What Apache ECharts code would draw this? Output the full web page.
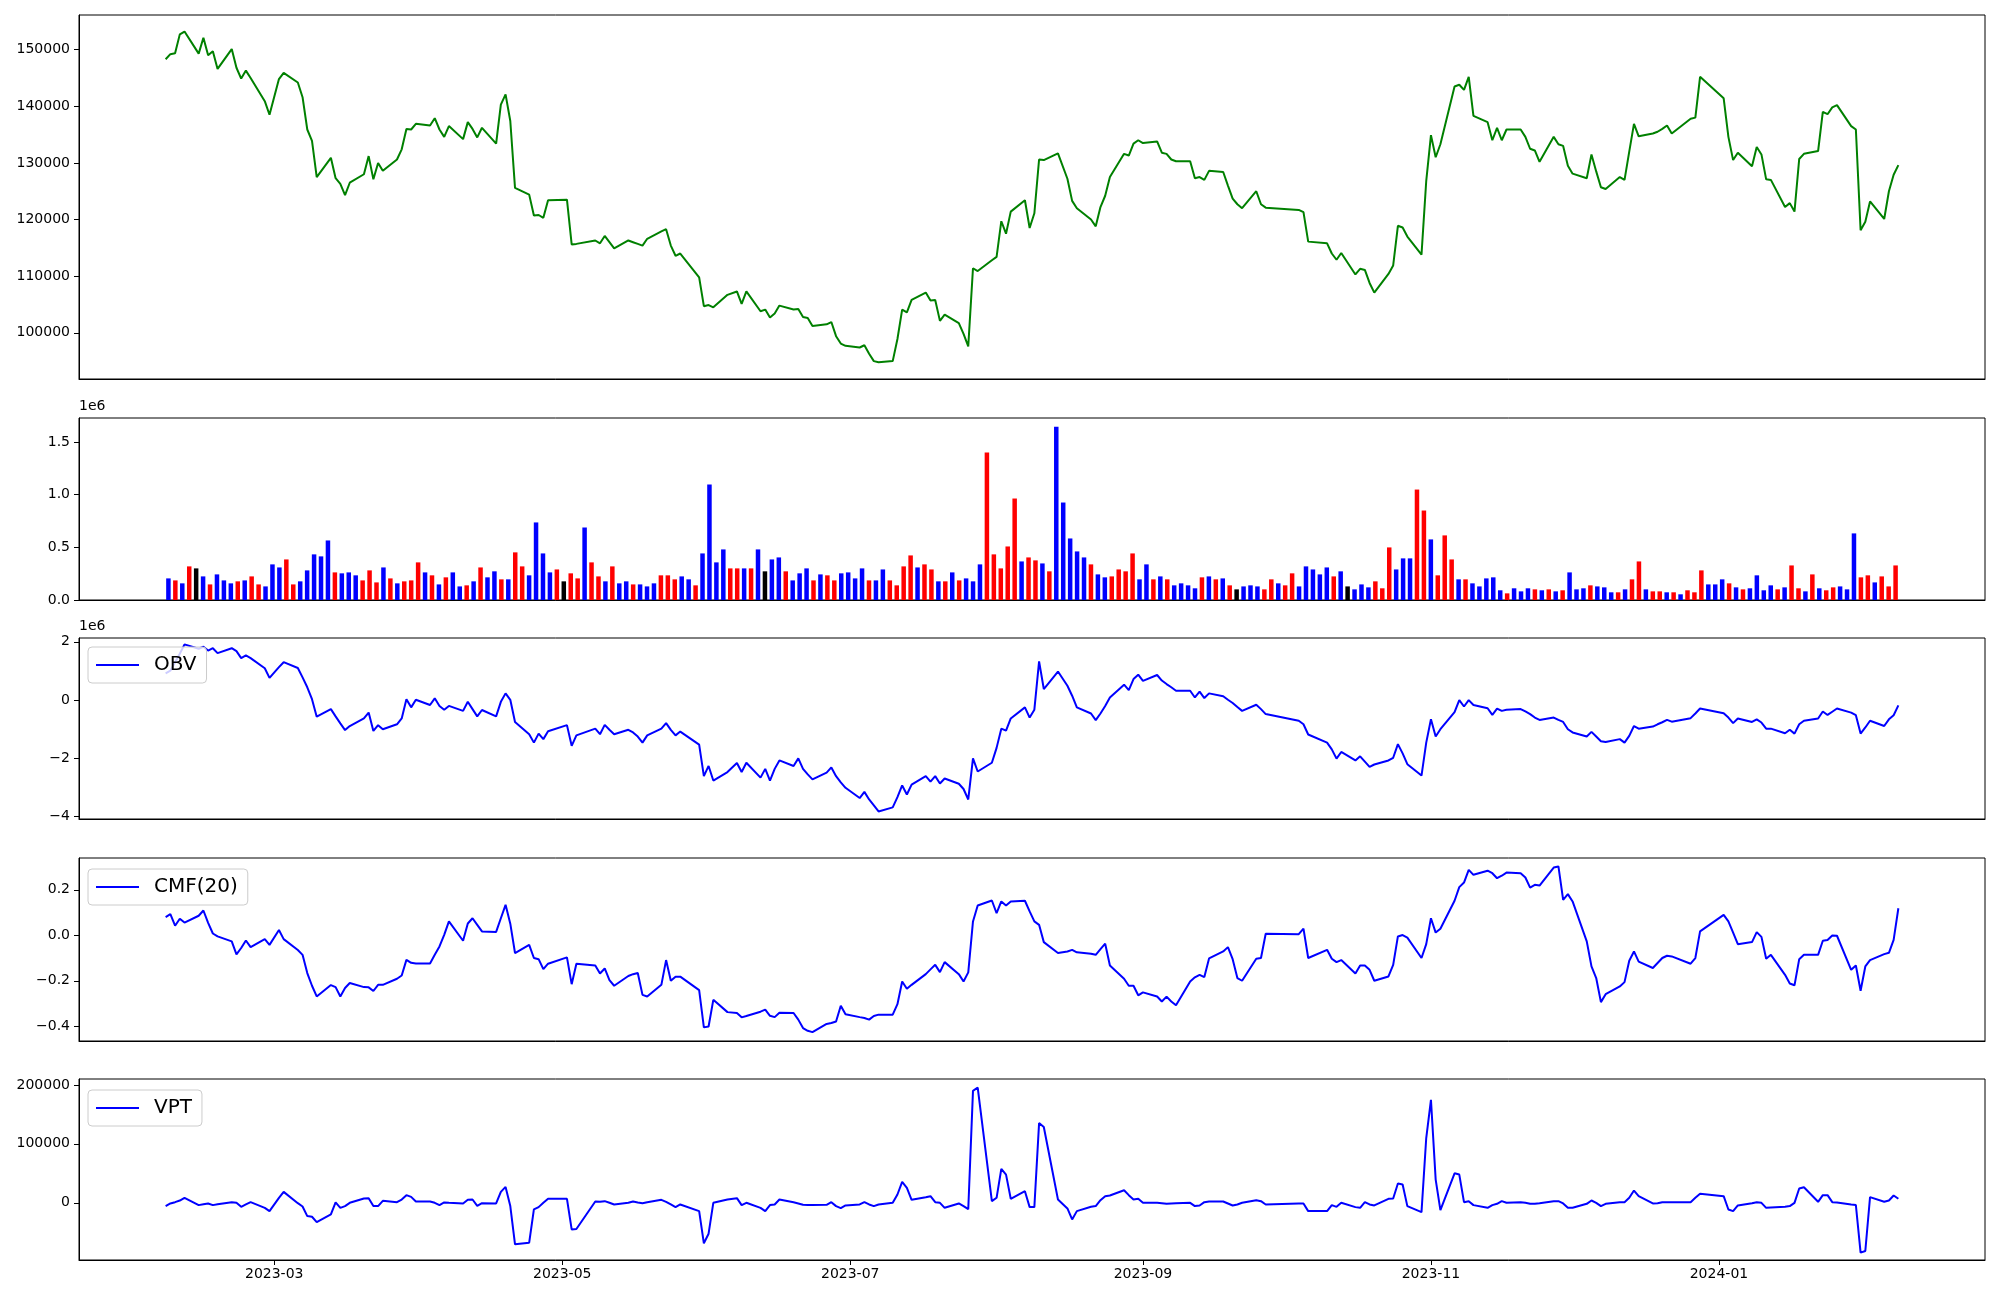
<!DOCTYPE html>
<html>
<head>
<meta charset="utf-8">
<script src="https://cdn.jsdelivr.net/npm/echarts@6/dist/echarts.min.js"></script>
<style>
html,body{margin:0;padding:0;background:#fff;}
#chart{width:2000px;height:1300px;}
</style>
</head>
<body>
<div id="chart"></div>
<script>
// ---------- DATA ----------
const firstDay = '2023-02-06';
const lastDay = '2024-02-08';
const marketHolidays = ['2023-03-01','2023-05-01','2023-05-05','2023-05-29','2023-06-06','2023-08-15',
  '2023-09-28','2023-09-29','2023-10-02','2023-10-03','2023-10-09','2023-12-25','2023-12-29','2024-01-01'];

const closePrice = [
  148300,149200,149350,152700,153200,149300,152100,149000,149700,146600,150100,146800,144900,146300,145000,140900,138500,
  144800,145900,144200,141600,135900,133900,127500,130900,127300,126300,124300,126500,128000,131200,127100,130000,128600,130600,132400,136000,135900,136900,
  136600,137900,135900,134600,136500,134200,137200,136000,134500,136200,133400,140300,142100,137400,125600,124400,120700,120800,120300,123400,
  123500,115600,115700,116300,115800,117100,116000,114900,116300,116000,115700,115400,116600,117900,118300,115400,113600,114000,109800,104700,
  104900,104500,106700,107300,105100,107300,103800,104100,102700,103400,104800,104100,104200,102800,102600,101200,101500,101900,99400,98100,97700,
  97400,97800,96300,95000,94800,95000,98900,104100,103600,105800,107100,105700,105800,102100,103200,101700,99800,97600,111400,110900,112800,
  113400,119700,117500,121400,123400,118500,121100,130600,130500,131700,127200,123300,122000,120000,118800,122200,124200,127500,131600,131300,133400,134000,
  133500,133800,131800,131600,130600,130300,130300,127300,127500,127000,128600,128400,126000,123700,122700,122000,125000,122700,122100,
  121700,121300,116100,115800,114000,112900,114100,110300,111300,111100,108800,107100,110400,111900,118900,118600,117000,113800,126800,
  134900,131000,133300,143500,143800,142900,145200,138300,137200,134000,136200,134000,135900,135900,134600,132500,132200,130200,134600,133300,133000,129500,
  128100,127300,131500,128500,125700,125400,127500,127000,132000,136900,134700,135200,135500,136000,136600,135200,137800,138000,145200,
  141400,134600,130500,131800,129400,132800,131500,127100,127000,122200,122900,121400,130700,131600,132100,139000,138600,139800,140200,136500,135900,118100,
  119600,123200,120100,125000,127900,129600
];

// volume, in units of 1e6
const volume = [
  0.205,0.186,0.158,0.319,0.300,0.224,0.148,0.243,0.186,0.158,
  0.177,0.186,0.224,0.148,0.129,0.338,0.309,0.385,0.148,0.177,
  0.281,0.433,0.414,0.565,0.262,0.253,0.262,0.234,0.186,0.281,
  0.167,0.309,0.205,0.158,0.177,0.186,0.357,0.262,0.234,0.148,
  0.215,0.262,0.129,0.139,0.177,0.309,0.215,0.272,0.196,0.196,
  0.452,0.319,0.234,0.736,0.442,0.262,0.290,0.177,0.253,0.205,
  0.688,0.357,0.224,0.177,0.319,0.158,0.177,0.148,0.148,0.129,
  0.158,0.234,0.234,0.196,0.224,0.196,0.139,0.442,1.096,0.357,
  0.480,0.300,0.300,0.300,0.300,0.480,0.272,0.385,0.404,0.272,
  0.186,0.253,0.300,0.186,0.243,0.234,0.186,0.253,0.262,0.205,
  0.300,0.186,0.186,0.290,0.186,0.139,0.319,0.423,0.309,0.338,
  0.290,0.177,0.177,0.262,0.186,0.205,0.177,0.338,1.399,0.433,
  0.300,0.508,0.963,0.366,0.404,0.376,0.347,0.272,1.645,0.925,
  0.584,0.461,0.404,0.338,0.243,0.215,0.224,0.290,0.272,0.442,
  0.196,0.338,0.196,0.224,0.196,0.139,0.158,0.139,0.111,0.215,
  0.224,0.196,0.205,0.139,0.101,0.129,0.139,0.129,0.101,0.196,
  0.158,0.139,0.253,0.129,0.319,0.290,0.243,0.309,0.224,0.272,
  0.129,0.101,0.148,0.120,0.177,0.111,0.499,0.290,0.395,0.395,
  1.048,0.849,0.575,0.234,0.613,0.385,0.196,0.196,0.158,0.129,
  0.205,0.215,0.092,0.063,0.111,0.082,0.111,0.101,0.092,0.101,
  0.082,0.092,0.262,0.101,0.111,0.139,0.129,0.120,0.073,0.073,
  0.101,0.196,0.366,0.101,0.082,0.082,0.073,0.073,0.054,0.092,
  0.073,0.281,0.148,0.148,0.196,0.158,0.120,0.101,0.111,0.234,
  0.092,0.139,0.101,0.120,0.328,0.111,0.082,0.243,0.111,0.092,
  0.120,0.129,0.101,0.632,0.215,0.234,0.167,0.224,0.129,0.328
];
// bar colour class per day: R = red, B = blue, K = black
const volumeClass =
  'BRBRKBRBBB' + 'RBRRBBBRRB' + 'BBBBRBBBRR' + 'RBRBRRRBRB' + 'RBBRBRBBRB' +
  'RRBBBBRKRR' + 'BRRBRBBRBB' + 'BRRRBBRBBB' + 'BRRBRBKBBR' + 'BBBRBRRBBB' +
  'BRBBRRRRBR' + 'RBRBRBBBRR' + 'RRRBRRBRBB' + 'BBBRBBRRRR' + 'BBRBRBBBBR' +
  'BRBRKBBBRR' + 'BRRBBBBBRB' + 'KBBBRRRBBB' + 'RRBRRRBRBB' + 'BBBRBBBRBR' +
  'BRBBBRBBBR' + 'BRRBRRBRBR' + 'RRBBBRBRBB' + 'BBRBRRBRBR' + 'RBBBRRBRRR';

// OBV, in units of 1e6
const obv = [
  0.92,1.01,1.30,1.59,1.91,1.76,1.83,1.70,1.78,1.61,1.78,1.68,1.44,1.53,1.44,1.09,0.76,
  1.13,1.30,1.10,0.78,0.44,0.03,-0.57,-0.31,-0.56,-0.80,-1.03,-0.89,-0.63,-0.43,-1.06,-0.86,-1.00,-0.83,-0.63,0.03,-0.25,0.01,
  -0.17,0.06,-0.20,-0.33,-0.20,-0.37,-0.06,-0.31,-0.56,-0.34,-0.56,-0.06,0.23,0.01,-0.75,-1.17,-1.46,-1.15,-1.34,-1.07,
  -0.86,-1.57,-1.21,-0.98,-1.17,-0.85,-1.02,-1.17,-1.02,-1.11,-1.25,-1.46,-1.21,-0.98,-0.79,-1.02,-1.21,-1.08,-1.53,-2.61,
  -2.26,-2.76,-2.47,-2.16,-2.47,-2.15,-2.66,-2.36,-2.76,-2.36,-2.07,-2.26,-2.00,-2.36,-2.55,-2.72,-2.49,-2.31,-2.61,-2.82,-3.01,
  -3.36,-3.15,-3.41,-3.61,-3.82,-3.68,-3.33,-2.93,-3.24,-2.90,-2.61,-2.80,-2.61,-2.86,-2.69,-2.87,-3.05,-3.41,-2.00,-2.45,-2.15,
  -1.64,-0.98,-1.05,-0.63,-0.25,-0.60,-0.33,1.33,0.38,0.98,0.49,0.15,-0.25,-0.46,-0.69,-0.46,-0.20,0.09,0.53,0.34,0.72,0.87,
  0.66,0.86,0.67,0.55,0.44,0.32,0.32,0.09,0.29,0.07,0.23,0.13,0.01,-0.10,-0.24,-0.37,-0.16,-0.31,-0.48,
  -0.71,-0.83,-1.18,-1.46,-1.69,-2.01,-1.78,-2.07,-1.93,-2.11,-2.29,-2.21,-2.07,-1.98,-1.51,-1.83,-2.20,-2.59,-1.46,
  -0.66,-1.25,-1.00,-0.41,0.00,-0.22,0.00,-0.17,-0.28,-0.51,-0.29,-0.37,-0.33,-0.31,-0.39,-0.48,-0.60,-0.68,-0.60,-0.68,-0.75,-1.00,
  -1.11,-1.25,-1.09,-1.25,-1.41,-1.44,-1.34,-1.46,-1.23,-0.89,-0.98,-0.91,-0.83,-0.76,-0.68,-0.74,-0.62,-0.46,-0.29,
  -0.45,-0.60,-0.79,-0.63,-0.75,-0.66,-0.77,-0.98,-0.98,-1.14,-1.02,-1.15,-0.83,-0.71,-0.63,-0.39,-0.51,-0.40,-0.29,-0.43,-0.52,-1.15,
  -0.94,-0.71,-0.89,-0.66,-0.52,-0.18
];

const cmf20 = [
  0.080,0.093,0.042,0.073,0.056,0.086,0.109,0.055,0.008,-0.005,-0.027,-0.084,-0.056,-0.023,-0.052,-0.017,-0.042,
  0.023,-0.017,-0.065,-0.086,-0.166,-0.222,-0.269,-0.219,-0.228,-0.269,-0.232,-0.210,-0.228,-0.229,-0.245,-0.218,-0.218,-0.191,-0.177,-0.108,-0.121,-0.124,
  -0.124,-0.086,-0.049,0.002,0.061,-0.024,0.052,0.075,0.046,0.017,0.015,0.075,0.134,0.051,-0.078,-0.042,-0.100,-0.105,-0.149,-0.125,
  -0.097,-0.215,-0.125,-0.133,-0.168,-0.146,-0.197,-0.222,-0.179,-0.171,-0.166,-0.262,-0.269,-0.218,-0.109,-0.200,-0.182,-0.182,-0.241,-0.405,
  -0.401,-0.284,-0.338,-0.342,-0.361,-0.355,-0.336,-0.327,-0.354,-0.360,-0.341,-0.342,-0.371,-0.408,-0.420,-0.426,-0.390,-0.386,-0.379,-0.310,-0.347,
  -0.360,-0.364,-0.371,-0.355,-0.349,-0.349,-0.303,-0.203,-0.235,-0.218,-0.171,-0.150,-0.130,-0.162,-0.118,-0.171,-0.203,-0.163,0.061,0.131,0.153,
  0.097,0.149,0.131,0.149,0.152,0.105,0.061,0.046,-0.030,-0.078,-0.071,-0.064,-0.075,-0.081,-0.086,-0.061,-0.037,-0.133,-0.191,-0.222,-0.222,-0.264,
  -0.251,-0.269,-0.291,-0.270,-0.291,-0.308,-0.203,-0.185,-0.174,-0.184,-0.102,-0.071,-0.052,-0.105,-0.188,-0.200,-0.103,-0.100,0.007,
  0.005,0.029,-0.100,-0.064,-0.103,-0.118,-0.109,-0.168,-0.133,-0.133,-0.152,-0.200,-0.181,-0.130,-0.005,0.001,-0.010,-0.100,-0.039,
  0.075,0.012,0.029,0.152,0.212,0.232,0.288,0.266,0.284,0.273,0.251,0.262,0.276,0.273,0.254,0.210,0.222,0.219,0.298,0.303,0.156,0.181,
  0.149,-0.027,-0.137,-0.188,-0.294,-0.259,-0.225,-0.206,-0.112,-0.071,-0.116,-0.144,-0.122,-0.100,-0.090,-0.093,-0.125,-0.100,0.017,
  0.090,0.061,0.012,-0.039,-0.030,0.014,-0.007,-0.103,-0.086,-0.174,-0.212,-0.220,-0.105,-0.086,-0.086,-0.024,-0.021,-0.001,-0.002,-0.152,-0.133,-0.244,
  -0.137,-0.109,-0.083,-0.077,-0.020,0.119
];

const vpt = [
  -5600,-1100,1100,3900,8500,-3900,-2300,-1100,-3900,-2300,1100,0,-6800,-2800,1100,-8500,-14100,
  8500,18600,-600,-6200,-22500,-23700,-32700,-19700,600,-8500,-5600,0,7300,7900,-5600,-5600,3400,1100,5600,13000,10100,2300,
  2300,0,-3900,600,0,-1100,5100,5600,-5100,-600,-1100,18600,27000,-5600,-70400,-67600,-11300,-7300,0,6800,
  6800,-45100,-44500,2300,1700,2800,0,-2800,0,2300,600,-600,1100,5100,1700,-2800,-7300,-2800,-14100,-68700,
  -52400,0,5600,7900,-3900,0,-8500,-14100,-3900,-2800,5600,1100,-1100,-3400,-3900,-3900,-3400,1100,-5600,-9000,-4500,
  -2800,1100,-2800,-5600,-2800,0,14100,35500,25400,5100,9600,11300,1100,0,-8500,-1100,-5600,-10700,189900,195500,2800,
  8500,57500,47900,6800,19700,-7300,-7300,135200,128500,5600,-9600,-28200,-14100,-6800,-5600,4500,11300,12400,21400,13000,5600,6800,
  0,0,-600,-1700,-1100,-600,0,-5600,-4500,1100,2300,2300,-1100,-4500,-2800,0,4500,2800,-2800,
  -1100,-1100,-14100,-14100,-3900,-6800,0,-7300,-8500,1100,-2800,-4500,6800,7300,32700,31000,-5600,-15800,109900,
  174700,39400,-12400,50100,47900,1100,2800,-3900,-8500,-3900,-1700,2800,0,1100,0,-1700,-1700,-600,2800,2800,-1100,-8500,
  -8500,-1700,3900,0,-5600,-1700,1100,1100,8500,20800,11300,-1100,-600,1100,1100,1100,1100,8500,15200,
  11300,-11300,-14100,-4500,-600,1100,0,-8500,-7900,-6800,-5600,0,24200,26500,1700,13000,13000,1100,600,-2800,-3900,-84500,
  -81700,9600,1700,3900,12400,6800
];

const monthTicks = ['2023-03-01','2023-05-01','2023-07-01','2023-09-01','2023-11-01','2024-01-01'];
const priceTicks = [100000,110000,120000,130000,140000,150000];
const volumeTicks = [0,0.5,1.0,1.5];
const obvTicks = [-4,-2,0,2];
const cmfTicks = [-0.4,-0.2,0.0,0.2];
const vptTicks = [0,100000,200000];

// ---------- BUILD ----------
function parseDay(s){ const p = s.split('-').map(Number); return new Date(p[0], p[1]-1, p[2]); }
function dayKey(d){ return d.getFullYear()+'-'+String(d.getMonth()+1).padStart(2,'0')+'-'+String(d.getDate()).padStart(2,'0'); }
const tradingDays = [];
(function(){
  const hol = new Set(marketHolidays);
  const d = parseDay(firstDay), end = parseDay(lastDay);
  while (d <= end) {
    const wd = d.getDay();
    if (wd !== 0 && wd !== 6 && !hol.has(dayKey(d))) tradingDays.push(d.getTime());
    d.setDate(d.getDate()+1);
  }
})();
if (tradingDays.length !== closePrice.length) console.warn('length mismatch', tradingDays.length, closePrice.length);

const t0 = tradingDays[0], t1 = tradingDays[tradingDays.length-1];
const tPad = (t1 - t0) * 0.05;
const tMin = t0 - tPad, tMax = t1 + tPad;
const monthTickVals = monthTicks.map(s => parseDay(s).getTime());

const nBars = volume.length;
const barLo = -0.4, barHi = (nBars - 1) + 0.4;
const barPad = (barHi - barLo) * 0.05;

const pair = arr => arr.map((v,i) => [tradingDays[i], v]);
const classColor = {R:'#ff0000', B:'#0000ff', K:'#000000'};
const volData = volume.map((v,i) => ({value:[i, v], itemStyle:{color: classColor[volumeClass[i]]}}));

const FONT = 'DejaVu Sans';
const minus = s => String(s).replace('-', '\u2212');

const L = 79, R = 15;
const grids = [
  {left:L, right:R, top:15,   height:364},
  {left:L, right:R, top:418,  height:182},
  {left:L, right:R, top:638,  height:181},
  {left:L, right:R, top:858,  height:183},
  {left:L, right:R, top:1079, height:181}
].map(g => Object.assign({show:true, borderColor:'#000', borderWidth:1, backgroundColor:'transparent'}, g));

function dateAxis(gi, showLabels){
  return {
    type:'value', gridIndex:gi, min:tMin, max:tMax,
    axisLine:{show:true, onZero:false, lineStyle:{color:'#000', width:1}},
    splitLine:{show:false},
    axisTick:{show:showLabels, length:5, lineStyle:{color:'#000', width:1}, customValues: monthTickVals},
    axisLabel:{show:showLabels, customValues: monthTickVals, margin:7, color:'#000', fontSize:14, fontFamily:FONT,
      formatter: v => { const d = new Date(v); return d.getFullYear()+'-'+String(d.getMonth()+1).padStart(2,'0'); }}
  };
}
function valAxis(gi, min, max, ticks, fmt, name){
  const ax = {
    type:'value', gridIndex:gi, min:min, max:max,
    axisLine:{show:true, onZero:false, lineStyle:{color:'#000', width:1}},
    splitLine:{show:false},
    axisTick:{show:true, length:5, lineStyle:{color:'#000', width:1}, customValues: ticks},
    axisLabel:{show:true, customValues: ticks, margin:9, color:'#000', fontSize:14, fontFamily:FONT, formatter: fmt}
  };
  if (name) {
    ax.name = name; ax.nameLocation = 'end'; ax.nameGap = 5;
    ax.nameTextStyle = {align:'left', verticalAlign:'bottom', color:'#000', fontSize:14, fontFamily:FONT};
  }
  return ax;
}

function legendFor(name, top){
  return {
    data:[name], left:88, top:top, orient:'horizontal', selectedMode:false,
    icon:'rect', itemWidth:43, itemHeight:2,
    padding:[8,10,8,8],
    backgroundColor:'rgba(255,255,255,0.8)', borderColor:'#cccccc', borderWidth:1, borderRadius:4,
    textStyle:{fontSize:20, fontFamily:FONT, color:'#000', padding:[0,0,0,10]}
  };
}

const option = {
  animation:false,
  backgroundColor:'#ffffff',
  textStyle:{fontFamily:FONT},
  grid: grids,
  legend:[legendFor('OBV', 647), legendFor('CMF(20)', 869), legendFor('VPT', 1090)],
  xAxis:[
    dateAxis(0, false),
    {type:'value', gridIndex:1, min: barLo - barPad, max: barHi + barPad,
     axisLine:{show:true, onZero:false, lineStyle:{color:'#000'}}, axisTick:{show:false}, axisLabel:{show:false}, splitLine:{show:false}},
    dateAxis(2, false),
    dateAxis(3, false),
    dateAxis(4, true)
  ],
  yAxis:[
    valAxis(0, 91840, 156120, priceTicks, v => String(v)),
    valAxis(1, 0, 1.727, volumeTicks, v => v.toFixed(1), '1e6'),
    valAxis(2, -4.08, 2.13, obvTicks, v => minus(Math.round(v)), '1e6'),
    valAxis(3, -0.465, 0.34, cmfTicks, v => minus(v.toFixed(1))),
    valAxis(4, -97000, 210000, vptTicks, v => String(v))
  ],
  series:[
    {name:'Close', type:'line', xAxisIndex:0, yAxisIndex:0, data:pair(closePrice), showSymbol:false, symbol:'none',
     lineStyle:{color:'#008000', width:2}, itemStyle:{color:'#008000'}},
    {name:'Volume', type:'bar', xAxisIndex:1, yAxisIndex:1, data:volData, barWidth:4.5},
    {name:'OBV', type:'line', xAxisIndex:2, yAxisIndex:2, data:pair(obv), showSymbol:false, symbol:'none',
     lineStyle:{color:'#0000ff', width:2}, itemStyle:{color:'#0000ff'}},
    {name:'CMF(20)', type:'line', xAxisIndex:3, yAxisIndex:3, data:pair(cmf20), showSymbol:false, symbol:'none',
     lineStyle:{color:'#0000ff', width:2}, itemStyle:{color:'#0000ff'}},
    {name:'VPT', type:'line', xAxisIndex:4, yAxisIndex:4, data:pair(vpt), showSymbol:false, symbol:'none',
     lineStyle:{color:'#0000ff', width:2}, itemStyle:{color:'#0000ff'}}
  ]
};

const chart = echarts.init(document.getElementById('chart'), null, {renderer:'canvas', width:2000, height:1300});
chart.setOption(option);
</script>
</body>
</html>
